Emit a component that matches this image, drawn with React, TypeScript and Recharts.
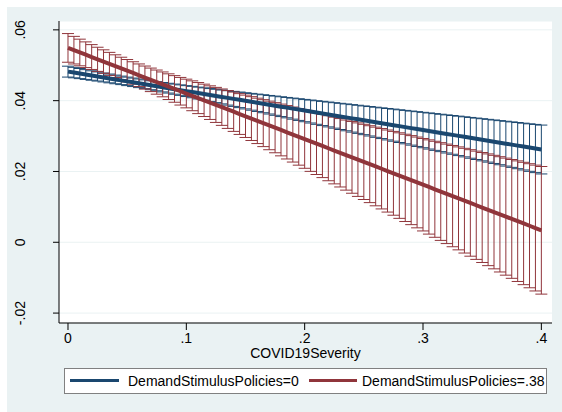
import React from 'react';
import { ComposedChart, Line, ErrorBar, XAxis, YAxis, CartesianGrid } from 'recharts';

// COVID19Severity grid (81 points, step .005)
const severity = [
  0, 0.005, 0.01, 0.015, 0.02, 0.025, 0.03, 0.035, 0.04, 0.045,
  0.05, 0.055, 0.06, 0.065, 0.07, 0.075, 0.08, 0.085, 0.09, 0.095,
  0.1, 0.105, 0.11, 0.115, 0.12, 0.125, 0.13, 0.135, 0.14, 0.145,
  0.15, 0.155, 0.16, 0.165, 0.17, 0.175, 0.18, 0.185, 0.19, 0.195,
  0.2, 0.205, 0.21, 0.215, 0.22, 0.225, 0.23, 0.235, 0.24, 0.245,
  0.25, 0.255, 0.26, 0.265, 0.27, 0.275, 0.28, 0.285, 0.29, 0.295,
  0.3, 0.305, 0.31, 0.315, 0.32, 0.325, 0.33, 0.335, 0.34, 0.345,
  0.35, 0.355, 0.36, 0.365, 0.37, 0.375, 0.38, 0.385, 0.39, 0.395,
  0.4,
];

// DemandStimulusPolicies=0 : margin and CI half-width
const margin0 = [
  0.0482, 0.04793, 0.04765, 0.04738, 0.0471, 0.04683, 0.04655, 0.04628, 0.046, 0.04573,
  0.04545, 0.04518, 0.0449, 0.04463, 0.04435, 0.04408, 0.0438, 0.04353, 0.04325, 0.04298,
  0.0427, 0.04243, 0.04215, 0.04188, 0.0416, 0.04133, 0.04105, 0.04078, 0.0405, 0.04023,
  0.03995, 0.03968, 0.0394, 0.03913, 0.03885, 0.03858, 0.0383, 0.03803, 0.03775, 0.03748,
  0.0372, 0.03693, 0.03665, 0.03638, 0.0361, 0.03583, 0.03555, 0.03528, 0.035, 0.03473,
  0.03445, 0.03418, 0.0339, 0.03363, 0.03335, 0.03308, 0.0328, 0.03253, 0.03225, 0.03198,
  0.0317, 0.03143, 0.03115, 0.03088, 0.0306, 0.03033, 0.03005, 0.02978, 0.0295, 0.02923,
  0.02895, 0.02868, 0.0284, 0.02813, 0.02785, 0.02758, 0.0273, 0.02703, 0.02675, 0.02648,
  0.0262,
];
const ci0 = [
  0.00154, 0.00148, 0.00143, 0.00138, 0.00133, 0.00129, 0.00126, 0.00124, 0.00122, 0.0012,
  0.0012, 0.0012, 0.00122, 0.00124, 0.00126, 0.00129, 0.00133, 0.00138, 0.00143, 0.00148,
  0.00154, 0.00161, 0.00167, 0.00174, 0.00181, 0.00189, 0.00196, 0.00204, 0.00212, 0.0022,
  0.00228, 0.00237, 0.00245, 0.00254, 0.00262, 0.00271, 0.0028, 0.00288, 0.00297, 0.00306,
  0.00315, 0.00324, 0.00333, 0.00342, 0.00351, 0.0036, 0.0037, 0.00379, 0.00388, 0.00397,
  0.00406, 0.00416, 0.00425, 0.00434, 0.00444, 0.00453, 0.00462, 0.00472, 0.00481, 0.00491,
  0.005, 0.0051, 0.00519, 0.00528, 0.00538, 0.00547, 0.00557, 0.00566, 0.00576, 0.00585,
  0.00595, 0.00604, 0.00614, 0.00623, 0.00633, 0.00642, 0.00652, 0.00661, 0.00671, 0.00681,
  0.0069,
];

// DemandStimulusPolicies=.38 : margin and CI half-width
const margin1 = [
  0.0549, 0.05426, 0.05361, 0.05297, 0.05232, 0.05168, 0.05104, 0.05039, 0.04975, 0.0491,
  0.04846, 0.04782, 0.04717, 0.04653, 0.04588, 0.04524, 0.0446, 0.04395, 0.04331, 0.04266,
  0.04202, 0.04138, 0.04073, 0.04009, 0.03944, 0.0388, 0.03816, 0.03751, 0.03687, 0.03622,
  0.03558, 0.03494, 0.03429, 0.03365, 0.033, 0.03236, 0.03172, 0.03107, 0.03043, 0.02978,
  0.02914, 0.0285, 0.02785, 0.02721, 0.02656, 0.02592, 0.02528, 0.02463, 0.02399, 0.02334,
  0.0227, 0.02206, 0.02141, 0.02077, 0.02012, 0.01948, 0.01884, 0.01819, 0.01755, 0.0169,
  0.01626, 0.01562, 0.01497, 0.01433, 0.01368, 0.01304, 0.0124, 0.01175, 0.01111, 0.01046,
  0.00982, 0.00918, 0.00853, 0.00789, 0.00724, 0.0066, 0.00596, 0.00531, 0.00467, 0.00402,
  0.00338,
];
const ci1 = [
  0.00405, 0.0039, 0.00376, 0.00363, 0.00351, 0.00341, 0.00332, 0.00325, 0.0032, 0.00317,
  0.00316, 0.00317, 0.0032, 0.00325, 0.00332, 0.00341, 0.00351, 0.00363, 0.00376, 0.0039,
  0.00405, 0.00422, 0.00439, 0.00457, 0.00475, 0.00495, 0.00514, 0.00535, 0.00555, 0.00576,
  0.00598, 0.00619, 0.00641, 0.00663, 0.00686, 0.00708, 0.00731, 0.00754, 0.00777, 0.008,
  0.00824, 0.00847, 0.00871, 0.00894, 0.00918, 0.00942, 0.00966, 0.0099, 0.01014, 0.01038,
  0.01062, 0.01086, 0.01111, 0.01135, 0.01159, 0.01184, 0.01208, 0.01233, 0.01257, 0.01282,
  0.01306, 0.01331, 0.01356, 0.0138, 0.01405, 0.0143, 0.01454, 0.01479, 0.01504, 0.01529,
  0.01553, 0.01578, 0.01603, 0.01628, 0.01653, 0.01678, 0.01703, 0.01728, 0.01752, 0.01777,
  0.01802,
];

const xTicks = [0, 0.1, 0.2, 0.3, 0.4];
const yTicks = [-0.02, 0, 0.02, 0.04, 0.06];

const NAVY = '#1a476f';
const MAROON = '#90353b';
const BG = '#eaf2f3';
const FONT = '"Liberation Sans", Arial, Helvetica, sans-serif';

const rows = severity.map((x, i) => ({
  x,
  m0: margin0[i],
  e0: ci0[i],
  m1: margin1[i],
  e1: ci1[i],
}));

// stata style: .04, -.02, 0
const stataNum = (v: number) => String(v).replace(/^(-?)0\./, '$1.');

const YTick = (props: any) => {
  const { y, payload } = props;
  const x = 18;
  return (
    <text
      x={x}
      y={y}
      transform={`rotate(-90 ${x} ${y})`}
      textAnchor="middle"
      fill="#000"
      fontSize={14}
      fontFamily={FONT}
    >
      {stataNum(payload.value)}
    </text>
  );
};

export default function App() {
  return (
    <div style={{ position: 'absolute', left: 0, top: 0, width: 562, height: 412, background: '#fff' }}>
      <div style={{ position: 'absolute', left: 7, top: 7, width: 555, height: 405, background: BG }}>
        <ComposedChart
          width={555}
          height={405}
          data={rows}
          margin={{ top: 14, right: 10, bottom: 59, left: 12 }}
        >
          <CartesianGrid vertical={false} stroke={BG} fill="#fff" />
          <XAxis
            dataKey="x"
            type="number"
            domain={[-0.0076, 0.409]}
            allowDataOverflow
            ticks={xTicks}
            tickFormatter={stataNum}
            height={30}
            stroke="#000"
            tickSize={7}
            tickMargin={3}
            tick={{ fill: '#000', fontSize: 14, fontFamily: FONT }}
          />
          <YAxis
            type="number"
            domain={[-0.0228, 0.0625]}
            allowDataOverflow
            ticks={yTicks}
            width={40}
            stroke="#000"
            tickSize={6}
            tick={<YTick />}
          />
          {/* confidence intervals first, lines on top */}
          <Line dataKey="m0" stroke="none" dot={false} activeDot={false} isAnimationActive={false} legendType="none">
            <ErrorBar dataKey="e0" width={6} stroke={NAVY} strokeWidth={1} isAnimationActive={false} />
          </Line>
          <Line dataKey="m1" stroke="none" dot={false} activeDot={false} isAnimationActive={false} legendType="none">
            <ErrorBar dataKey="e1" width={6} stroke={MAROON} strokeWidth={1} isAnimationActive={false} />
          </Line>
          <Line
            dataKey="m0"
            type="linear"
            stroke={NAVY}
            strokeWidth={4}
            dot={false}
            activeDot={false}
            isAnimationActive={false}
          />
          <Line
            dataKey="m1"
            type="linear"
            stroke={MAROON}
            strokeWidth={4}
            dot={false}
            activeDot={false}
            isAnimationActive={false}
          />
        </ComposedChart>

        <div
          style={{
            position: 'absolute',
            left: 52,
            top: 340,
            width: 493,
            textAlign: 'center',
            fontFamily: FONT,
            fontSize: 14,
            lineHeight: '12px',
            color: '#000',
          }}
        >
          COVID19Severity
        </div>

        <div
          style={{
            position: 'absolute',
            left: 57,
            top: 361,
            width: 481,
            height: 24,
            background: '#fff',
            border: '1px solid #808080',
            fontFamily: FONT,
            fontSize: 14,
            lineHeight: '16px',
            color: '#000',
          }}
        >
          <div style={{ position: 'absolute', left: 5, top: 10, width: 49, height: 3, background: NAVY }} />
          <div style={{ position: 'absolute', left: 63, top: 4, whiteSpace: 'nowrap' }}>DemandStimulusPolicies=0</div>
          <div style={{ position: 'absolute', left: 244, top: 10, width: 48, height: 3, background: MAROON }} />
          <div style={{ position: 'absolute', left: 297, top: 4, whiteSpace: 'nowrap' }}>DemandStimulusPolicies=.38</div>
        </div>
      </div>
    </div>
  );
}
